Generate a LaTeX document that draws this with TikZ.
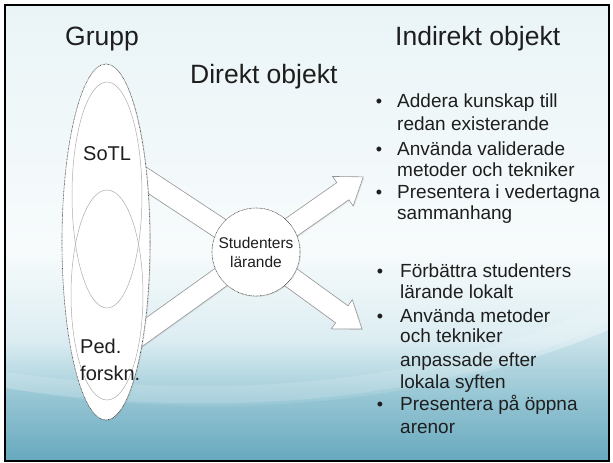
\documentclass[tikz,border=0pt]{standalone}
\usepackage{fontspec}
\setmainfont{Liberation Sans}
\usetikzlibrary{shapes.geometric,shadows}

\definecolor{bgtop}{HTML}{EAF4F7}
\definecolor{bgmid}{HTML}{F7FBFC}
\definecolor{bglow}{HTML}{DCEDF2}
\definecolor{wavemid}{HTML}{9DCAD7}
\definecolor{wavebot}{HTML}{67A9BE}
\definecolor{ink}{HTML}{1E1E1E}
\pgfdeclareverticalshading{slide}{100bp}{color(0bp)=(wavebot); color(25bp)=(wavebot);
  color(31.7bp)=(wavemid); color(38.3bp)=(bglow); color(48bp)=(bgmid);
  color(75bp)=(bgtop); color(100bp)=(bgtop)}

\begin{document}
\begin{tikzpicture}[x=1pt,y=-1pt]
\tikzset{
  title/.style={anchor=base west,inner sep=0pt,text=ink,font=\fontsize{26.5}{30}\selectfont},
  item/.style={anchor=base west,inner sep=0pt,text=ink,font=\fontsize{19}{22}\selectfont},
  dot/.style={anchor=base,inner sep=0pt,text=ink,font=\fontsize{18}{22}\selectfont},
  group/.style={anchor=base west,inner sep=0pt,text=ink,font=\fontsize{20}{24}\selectfont},
  band/.style={draw=black!42,fill=white,line width=0.6pt,
    drop shadow={shadow xshift=1pt,shadow yshift=-1pt,opacity=0.15}},
  rim/.style={draw=black!75,fill=white,line width=0.6pt,
    dash pattern=on 0.7pt off 0.7pt,inner sep=0pt,
    drop shadow={shadow xshift=1pt,shadow yshift=-1pt,opacity=0.15}},
  venn/.style={ellipse,draw=black!32,line width=0.5pt,inner sep=0pt}
}
\useasboundingbox (0,0) rectangle (613,463);

% background
\shade[shading=slide] (5,5) rectangle (609,461);
\fill[wavebot,opacity=0.16]
  (5,388) .. controls (220,425) and (430,405) .. (609,330)
  -- (609,461) -- (5,461) -- cycle;
\fill[white,opacity=0.14]
  (5,372) .. controls (200,400) and (430,392) .. (609,300)
  -- (609,322) .. controls (430,408) and (200,418) .. (5,388) -- cycle;

% headings
\node[title] (grupp) at (65,45) {Grupp};
\node[title] (indir) at (395,45) {Indirekt objekt};
\node[title] (dir) at (190,83) {Direkt objekt};

% arms round the hub
\coordinate (hub) at (256,252);
\foreach \ang in {146.6,215.6} {
  \begin{scope}[shift={(hub)},rotate=\ang]
    \draw[band] (0,-10.5) rectangle (155,10.5);
  \end{scope}
}
\foreach \ang in {35,-36} {
  \begin{scope}[shift={(hub)},rotate=\ang]
    \draw[band] (0,-10.5) -- (106,-10.5) -- (106,-18) -- (131,0)
      -- (106,18) -- (106,10.5) -- (0,10.5) -- cycle;
  \end{scope}
}

% the group
\node[rim,ellipse,minimum width=88pt,minimum height=356pt] (grp) at (106,242) {};
\node[venn,minimum width=70pt,minimum height=226pt] (sotl) at (107,195) {};
\node[venn,minimum width=72pt,minimum height=210pt] (ped) at (107,295) {};
\node[group] (sotltxt) at (83,160) {SoTL};
\node[group] (pedtxt) at (80,353) {Ped.};
\node[group] (forsktxt) at (80,380) {forskn.};

\node[rim,circle,minimum size=88pt,align=center,text=ink,
  font=\fontsize{15.5}{19}\selectfont] (stud) at (hub) {Studenters\\lärande};

% indirekt objekt
\foreach \y/\t [count=\i] in {107/Addera kunskap till,130/redan existerande,
  155/Använda validerade,176/metoder och tekniker,
  198/Presentera i vedertagna,219/sammanhang}
  \node[item] (upper\i) at (397,\y) {\t};
\foreach \y [count=\i] in {107,155,198}
  \node[dot] (udot\i) at (379,\y) {•};

\foreach \y/\t [count=\i] in {277/Förbättra studenters,298/lärande lokalt,
  322/Använda metoder,342/och tekniker,366/anpassade efter,
  388/lokala syften,410/Presentera på öppna,433/arenor}
  \node[item] (lower\i) at (400,\y) {\t};
\foreach \y [count=\i] in {277,322,410}
  \node[dot] (ldot\i) at (380,\y) {•};

\draw[line width=2pt] (5,5) rectangle (609,461);
\end{tikzpicture}
\end{document}
